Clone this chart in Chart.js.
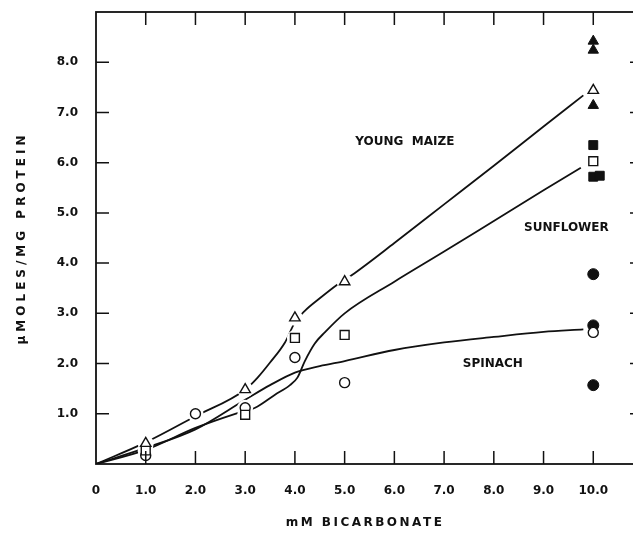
<!DOCTYPE html>
<html>
<head>
<meta charset="utf-8">
<script src="https://cdn.jsdelivr.net/npm/chart.js@4"></script>
<style>
  html, body { margin: 0; padding: 0; background: #fff; overflow: hidden; width: 633px; height: 536px; }
  #wrap { width: 660px; height: 536px; }
</style>
</head>
<body>
<div id="wrap"><canvas id="chart" width="660" height="536"></canvas></div>
<script>
// measured points, [mM bicarbonate, umoles/mg protein]
const maizeOpen = [[1, 0.41], [4, 2.91], [3, 1.48], [5, 3.63], [10, 7.44]];
const maizeFilled = [[10, 8.42], [10, 8.24], [10, 7.14]];
const sunflowerOpen = [[1, 0.27], [3, 0.98], [4, 2.51], [5, 2.57], [10, 6.03]];
const sunflowerFilled = [[10, 6.35], [10, 5.72], [10.13, 5.74]];
const spinachOpen = [[1, 0.17], [2, 1.0], [3, 1.12], [4, 2.12], [5, 1.62], [10, 2.62]];
const spinachFilled = [[10, 3.78], [10, 2.76], [10, 1.57]];

// hand-drawn curves
const maizeCurve = [[0, 0], [1, 0.43], [2, 0.95], [3, 1.48], [3.25, 1.72], [3.5, 2.02], [3.8, 2.42],
  [4, 2.82], [4.2, 3.05], [4.5, 3.3], [4.85, 3.57], [5.2, 3.8], [6, 4.4], [7, 5.17], [8, 5.94], [9, 6.72], [9.8, 7.34]];
const sunflowerCurve = [[0, 0], [1, 0.28], [2, 0.72], [2.8, 1.0], [3.2, 1.12], [3.6, 1.38], [3.9, 1.57],
  [4.05, 1.72], [4.2, 2.05], [4.4, 2.4], [4.6, 2.62], [5, 3.0], [6, 3.63], [7, 4.23], [8, 4.84], [9, 5.45], [9.75, 5.9]];
const spinachCurve = [[0, 0], [1, 0.32], [2, 0.69], [3, 1.28], [3.5, 1.57], [4, 1.82], [4.5, 1.95], [5, 2.05],
  [6, 2.27], [7, 2.42], [8, 2.53], [9, 2.63], [9.8, 2.68]];

// curve names and where they are written (data units)
const curveNames = ['YOUNG  MAIZE', 'SUNFLOWER', 'SPINACH'];
const nameX = [6.21, 9.46, 7.98];
const nameY = [6.42, 4.71, 1.99];

const xTitle = 'mM BICARBONATE';
const yTitle = '\u03BCMOLES/MG PROTEIN';

const INK = '#111';
const FONT = '"DejaVu Sans", sans-serif';

const pts = arr => arr.map(p => ({ x: p[0], y: p[1] }));

function curve(arr) {
  return {
    data: pts(arr), showLine: true, pointRadius: 0, borderColor: INK, borderWidth: 1.8,
    cubicInterpolationMode: 'monotone', fill: false, order: 3
  };
}

function marker(arr, style, radius, filled) {
  return {
    data: pts(arr), showLine: false, pointStyle: style, pointRadius: radius,
    pointBackgroundColor: filled ? INK : '#fff', pointBorderColor: INK,
    pointBorderWidth: filled ? 1 : 1.4, order: 0
  };
}

// white patches under the open symbols, so the curves break around them
const openPts = maizeOpen.concat(sunflowerOpen, spinachOpen).filter(p => p[0] < 10);
const halo = {
  data: pts(openPts), showLine: false, pointStyle: 'circle', pointRadius: 8,
  pointBackgroundColor: '#fff', pointBorderWidth: 0, order: 1
};

const TICK = 13;
const framePlugin = {
  id: 'frame',
  afterDatasetsDraw(chart) {
    const { ctx, chartArea: a, scales: { x, y } } = chart;
    ctx.save();
    ctx.strokeStyle = INK;
    ctx.lineWidth = 1.8;
    ctx.strokeRect(a.left, a.top, a.right - a.left, a.bottom - a.top);
    ctx.lineWidth = 1.5;
    ctx.beginPath();
    x.ticks.forEach(t => {
      if (t.value <= 0 || t.value > 10) return;
      const px = x.getPixelForValue(t.value);
      ctx.moveTo(px, a.bottom); ctx.lineTo(px, a.bottom - TICK);
      ctx.moveTo(px, a.top); ctx.lineTo(px, a.top + TICK);
    });
    y.ticks.forEach(t => {
      if (t.value <= 0 || t.value > 8) return;
      const py = y.getPixelForValue(t.value);
      ctx.moveTo(a.left, py); ctx.lineTo(a.left + TICK, py);
      ctx.moveTo(a.right, py); ctx.lineTo(a.right - TICK, py);
    });
    ctx.stroke();

    // curve names
    ctx.fillStyle = INK;
    ctx.font = 'bold 12px ' + FONT;
    ctx.textAlign = 'center';
    ctx.textBaseline = 'middle';
    curveNames.forEach((name, i) => {
      ctx.fillText(name, x.getPixelForValue(nameX[i]), y.getPixelForValue(nameY[i]));
    });

    // axis titles, spaced out like the original lettering
    ctx.letterSpacing = '2.5px';
    ctx.fillText(xTitle, 365, 523);
    ctx.translate(22, (a.top + a.bottom) / 2);
    ctx.rotate(-Math.PI / 2);
    ctx.letterSpacing = '4px';
    ctx.fillText(yTitle, 0, 0);
    ctx.restore();
  }
};

new Chart(document.getElementById('chart'), {
  type: 'scatter',
  data: {
    datasets: [
      curve(maizeCurve), curve(sunflowerCurve), curve(spinachCurve),
      halo,
      marker(maizeOpen, 'triangle', 6, false),
      marker(maizeFilled, 'triangle', 6, true),
      marker(sunflowerOpen, 'rect', 6.3, false),
      marker(sunflowerFilled, 'rect', 6.3, true),
      marker(spinachOpen, 'circle', 5, false),
      marker(spinachFilled, 'circle', 5.5, true)
    ]
  },
  options: {
    responsive: false,
    animation: false,
    layout: { padding: { top: 12, right: 17, left: 0, bottom: 0 } },
    plugins: { legend: { display: false }, tooltip: { enabled: false } },
    scales: {
      x: {
        type: 'linear', min: 0, max: 11,
        grid: { display: false, drawTicks: false },
        border: { display: false },
        ticks: {
          stepSize: 1, autoSkip: false, maxRotation: 0, padding: 20, color: INK,
          font: { family: FONT, size: 12, weight: 'bold' },
          callback: v => v === 0 ? '0' : (v <= 10 ? v.toFixed(1) : '')
        },
        afterFit(s) { s.height = 72; s.paddingLeft = 0; s.paddingRight = 0; }
      },
      y: {
        type: 'linear', min: 0, max: 9,
        grid: { display: false, drawTicks: false },
        border: { display: false },
        ticks: {
          stepSize: 1, autoSkip: false, padding: 18, color: INK,
          font: { family: FONT, size: 12, weight: 'bold' },
          callback: v => (v > 0 && v < 9) ? v.toFixed(1) : ''
        },
        afterFit(s) { s.width = 96; s.paddingTop = 0; s.paddingBottom = 0; }
      }
    }
  },
  plugins: [framePlugin]
});
</script>
</body>
</html>
